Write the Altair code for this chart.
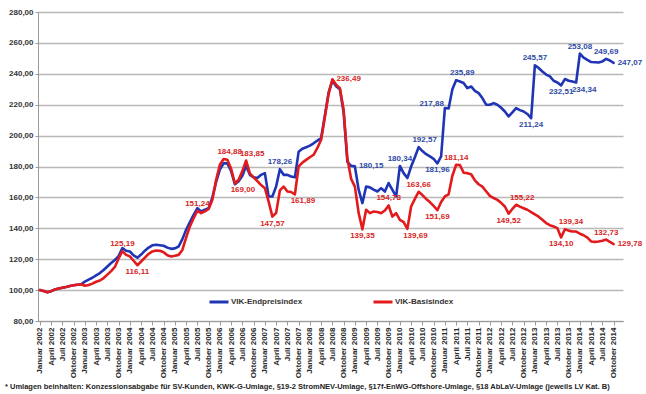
import altair as alt
import pandas as pd

# Monthly index values (January 2002 = 100), January 2002 to October 2014
basis = (
    [100.00, 99.40, 98.60, 99.30, 100.40, 101.00, 101.50, 102.00, 102.60, 103.10, 103.50, 103.80]    # 2002
    + [102.80, 103.30, 104.20, 105.40, 106.20, 107.80, 110.00, 112.30, 115.00, 120.50, 125.19, 122.80]  # 2003
    + [121.80, 119.00, 116.11, 118.50, 121.00, 123.50, 125.00, 125.60, 125.50, 124.50, 122.50, 121.70]  # 2004
    + [122.20, 122.80, 126.00, 134.00, 141.20, 146.50, 151.24, 149.80, 151.00, 152.50, 158.40, 171.40]  # 2005
    + [181.10, 184.88, 184.30, 178.50, 169.00, 171.40, 177.00, 183.85, 175.50, 173.00, 170.50, 168.00]  # 2006
    + [166.00, 157.30, 147.57, 150.00, 164.50, 167.00, 163.80, 163.50, 161.89, 180.00, 182.50, 184.30]  # 2007
    + [186.00, 187.60, 192.00, 197.30, 212.00, 227.00, 236.49, 232.90, 230.70, 216.70, 185.00, 172.00]  # 2008
    + [167.00, 150.00, 139.35, 152.00, 149.80, 150.90, 150.50, 149.80, 151.50, 154.78, 147.60, 149.80]  # 2009
    + [145.50, 144.00, 139.69, 154.10, 159.00, 163.66, 161.50, 159.00, 157.00, 154.50, 151.69, 157.00]  # 2010
    + [160.60, 162.00, 174.00, 181.14, 181.00, 176.00, 175.70, 175.00, 171.00, 168.50, 167.00, 164.00]  # 2011
    + [161.00, 159.60, 158.40, 156.50, 154.10, 149.52, 152.50, 155.22, 154.00, 153.00, 152.00, 150.50]  # 2012
    + [149.00, 147.50, 145.50, 143.40, 142.00, 141.20, 140.10, 134.10, 139.34, 138.50, 137.90, 137.90]  # 2013
    + [136.50, 135.50, 134.00, 131.50, 131.20, 131.50, 132.00, 132.73, 131.20, 129.78]                  # 2014
)

endpreis = (
    [100.00, 99.40, 98.60, 99.30, 100.40, 101.00, 101.50, 102.00, 102.60, 103.10, 103.50, 103.80]    # 2002
    + [105.50, 106.80, 108.00, 109.50, 111.00, 113.00, 115.30, 117.50, 119.50, 122.00, 127.20, 125.50]  # 2003
    + [125.00, 122.50, 121.00, 123.00, 125.50, 127.50, 129.00, 129.30, 129.00, 128.70, 127.50, 126.70]  # 2004
    + [127.00, 128.20, 133.00, 139.00, 144.00, 148.70, 153.00, 150.90, 152.00, 153.00, 160.00, 170.00]  # 2005
    + [178.00, 182.00, 182.00, 177.00, 168.50, 170.50, 174.00, 180.50, 174.60, 173.00, 172.50, 174.60]  # 2006
    + [175.70, 160.60, 160.60, 167.00, 178.26, 174.60, 174.60, 173.50, 173.00, 189.50, 191.50, 192.50]  # 2007
    + [193.50, 195.00, 196.80, 198.40, 213.00, 228.00, 235.50, 232.00, 230.00, 215.00, 183.00, 180.40]  # 2008
    + [180.15, 165.00, 156.30, 167.00, 166.50, 165.00, 163.80, 166.00, 163.80, 169.30, 164.90, 160.60]  # 2009
    + [180.34, 175.70, 172.50, 180.00, 186.00, 192.57, 190.00, 188.00, 186.50, 185.00, 181.96, 186.50]  # 2010
    + [217.88, 217.50, 230.00, 235.89, 235.00, 234.00, 230.70, 231.80, 229.00, 227.50, 224.30, 220.00]  # 2011
    + [220.00, 221.00, 220.00, 218.00, 215.60, 212.40, 215.00, 217.80, 216.50, 215.60, 214.00, 211.24]  # 2012
    + [245.57, 243.70, 241.50, 239.50, 238.30, 235.50, 234.40, 232.51, 236.60, 235.50, 235.00, 234.34]  # 2013
    + [253.08, 250.50, 249.00, 247.60, 247.50, 247.30, 248.00, 249.69, 248.60, 247.07]                  # 2014
)

SERIES = ["VIK-Endpreisindex", "VIK-Basisindex"]
LINE_COLORS = ["#1f35b5", "#e31a1c"]
LABEL_COLORS = {"VIK-Endpreisindex": "#2d4aa5", "VIK-Basisindex": "#d82525"}

# Annotated months (index from January 2002) and where the value text sits
endpreis_labels = [
    (64, "above"), (84, "right"), (96, "above"), (101, "above_right"),
    (106, "below"), (108, "left"), (111, "above_right"), (131, "below"),
    (132, "above"), (139, "below"), (143, "below_right"), (144, "above"),
    (151, "above"), (153, "right"),
]
basis_labels = [
    (22, "above"), (26, "below"), (42, "above"), (49, "above_right"),
    (52, "below_right"), (55, "above_right"), (62, "below"), (68, "below_right"),
    (78, "right"), (86, "below"), (93, "above"), (98, "below_right"),
    (101, "above"), (106, "below"), (111, "above"), (125, "below"),
    (127, "above_right"), (139, "below"), (140, "above_right"), (151, "above"),
    (153, "right"),
]

FOOTNOTE = ("* Umlagen beinhalten:  Konzessionsabgabe  für SV-Kunden, KWK-G-Umlage, "
            "§19-2 StromNEV-Umlage, §17f-EnWG-Offshore-Umlage, §18 AbLaV-Umlage "
            "(jeweils LV Kat. B)")

FONT = "Liberation Sans"

PLACEMENT = {
    "above": dict(align="center", dx=0, dy=-7),
    "below": dict(align="center", dx=0, dy=7),
    "right": dict(align="left", dx=4, dy=0),
    "left": dict(align="right", dx=-1, dy=-4),
    "above_right": dict(align="center", dx=6, dy=-7),
    "below_right": dict(align="center", dx=8, dy=7),
}

rows = []
for name, values in zip(SERIES, [endpreis, basis]):
    for m, v in enumerate(values):
        rows.append({"month": m, "series": name, "value": v})
df = pd.DataFrame(rows)

label_rows = []
for name, values, marks in [("VIK-Endpreisindex", endpreis, endpreis_labels),
                            ("VIK-Basisindex", basis, basis_labels)]:
    for m, place in marks:
        label_rows.append({"month": m, "series": name, "value": values[m],
                           "place": place, "tcolor": LABEL_COLORS[name]})
labels_df = pd.DataFrame(label_rows)

num_expr = "replace(format(datum.value, '.2f'), '.', ',')"
month_expr = ("['Januar','April','Juli','Oktober'][(datum.value % 12) / 3] + ' ' + "
              "(2002 + floor(datum.value / 12))")

x_enc = alt.X(
    "month:Q",
    scale=alt.Scale(domain=[-0.5, 155.5], nice=False, zero=False),
    axis=alt.Axis(
        values=list(range(0, 154, 3)), labelExpr=month_expr, labelAngle=270,
        labelFontSize=8, labelFontWeight="bold", labelFont=FONT, labelColor="#2a2a2a",
        labelPadding=2, grid=False, domain=True, domainColor="#9a9a9a",
        tickColor="#9a9a9a", tickSize=4, title=None, labelOverlap=False,
        labelBound=False, labelFlush=False,
    ),
)
y_enc = alt.Y(
    "value:Q",
    scale=alt.Scale(domain=[80, 280], nice=False, zero=False),
    axis=alt.Axis(
        values=list(range(80, 281, 20)), labelExpr=num_expr,
        labelFontSize=8, labelFontWeight="bold", labelFont=FONT, labelColor="#333333",
        labelPadding=2, grid=True, gridColor="#b9b9b9", gridWidth=1.4,
        domain=True, domainColor="#9a9a9a", tickColor="#9a9a9a", tickSize=3, title=None,
        labelOverlap=False,
    ),
)
color_enc = alt.Color(
    "series:N",
    scale=alt.Scale(domain=SERIES, range=LINE_COLORS),
    legend=alt.Legend(
        orient="none", legendX=170, legendY=279, direction="horizontal", title=None,
        symbolType="stroke", symbolStrokeWidth=3, symbolSize=361,
        labelFont=FONT, labelFontSize=8, labelFontWeight="bold", labelColor="#333333",
        labelOffset=1, columnPadding=64,
    ),
)

base = alt.Chart(df)
lines = [
    base.transform_filter(alt.datum.series == s)
    .mark_line(strokeWidth=2.6, strokeJoin="round", strokeCap="round")
    .encode(x=x_enc, y=y_enc, color=color_enc)
    for s in SERIES
]

label_layers = []
for place, style in PLACEMENT.items():
    label_layers.append(
        alt.Chart(labels_df)
        .transform_filter(alt.datum.place == place)
        .transform_calculate(txt=num_expr)
        .mark_text(font=FONT, fontSize=8, fontWeight="bold", baseline="middle", **style)
        .encode(x=x_enc, y=y_enc, text="txt:N", color=alt.Color("tcolor:N", scale=None))
    )

footnote = (
    alt.Chart(pd.DataFrame({"note": [FOOTNOTE]}))
    .mark_text(font=FONT, fontSize=7.5, fontWeight="bold", align="left",
               baseline="middle", color="#222222")
    .encode(x=alt.value(-33), y=alt.value(374.5), text="note:N")
)

chart = (
    alt.layer(*lines, *label_layers, footnote)
    .properties(
        width=585, height=309,
        autosize=alt.AutoSizeParams(type="none"),
        padding={"left": 38, "top": 12, "right": 23, "bottom": 73},
        background="white",
    )
    .configure_view(stroke=None)
)

chart.save("out.html", embed_options={"renderer": "svg", "actions": False})
